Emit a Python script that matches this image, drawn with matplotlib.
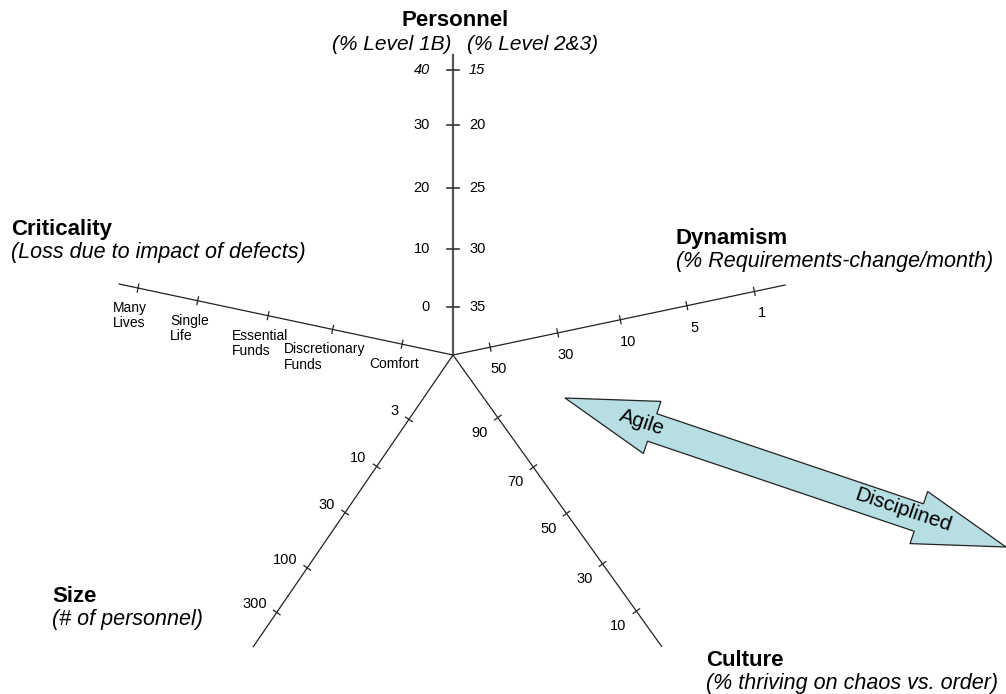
import numpy as np
import matplotlib
matplotlib.use("Agg")
import matplotlib.pyplot as plt
from matplotlib.patches import Polygon

plt.rcParams['font.family'] = ['Liberation Sans', 'DejaVu Sans']

# tick labels of each axis (from the hub outwards where noted)
personnel_left = ["40", "30", "20", "10", "0"]
personnel_right = ["15", "20", "25", "30", "35"]
criticality_labels = ["Many\nLives", "Single\nLife", "Essential\nFunds",
                      "Discretionary\nFunds", "Comfort"]
dynamism_labels = ["50", "30", "10", "5", "1"]
size_labels = ["3", "10", "30", "100", "300"]
culture_labels = ["90", "70", "50", "30", "10"]

# layout (pixels): hub, axis angle, axis length, tick distances from hub
cx, cy = 453, 355
pers_ang, pers_len, pers_d = 90, 300, [285, 230, 167, 106, 48]
crit_ang, crit_len, crit_d = 168, 342, [322, 261, 189, 123, 52]
dyn_ang, dyn_len, dyn_d = 11.9, 340, [38, 107, 171, 239, 308]
size_ang, size_len, size_d = -124.4, 354, [78, 135, 191, 258, 312]
cult_ang, cult_len, cult_d = -54.4, 359, [77, 138, 195, 257, 315]

fig = plt.figure(figsize=(10.06, 6.94), dpi=100)
ax = fig.add_axes([0, 0, 1, 1])
ax.set_xlim(0, 1006)
ax.set_ylim(694, 0)
ax.axis('off')

TICK_FS = 10.5


def pt(ang, d):
    a = np.radians(ang)
    return cx + d * np.cos(a), cy - d * np.sin(a)


def draw_axis(ang, length, dists, lw=0.9, color='#222222', tick=4):
    x1, y1 = pt(ang, length)
    ax.plot([cx, x1], [cy, y1], color=color, lw=lw, solid_capstyle='butt')
    a = np.radians(ang)
    nx, ny = np.sin(a), np.cos(a)  # perpendicular in pixel coords
    for d in dists:
        px, py = pt(ang, d)
        ax.plot([px - tick * nx, px + tick * nx], [py - tick * ny, py + tick * ny],
                color=color, lw=lw)


# Personnel (vertical)
x1, y1 = pt(pers_ang, pers_len)
ax.plot([cx, x1], [cy, y1], color='#555555', lw=1.6)
for d, l, r in zip(pers_d, personnel_left, personnel_right):
    px, py = pt(pers_ang, d)
    ax.plot([px - 6, px + 6], [py, py], color='#333333', lw=1.2)
    st = 'italic' if l == "40" else 'normal'
    ax.text(px - 23, py, l, ha='right', va='center', fontsize=TICK_FS, style=st)
    st = 'italic' if r == "15" else 'normal'
    ax.text(px + 16, py, r, ha='left', va='center', fontsize=TICK_FS, style=st)

# Criticality
draw_axis(crit_ang, crit_len, crit_d)
for d, lab in zip(crit_d, criticality_labels):
    px, py = pt(crit_ang, d)
    ax.text(px - 8, py + 13, lab, ha='center', va='top', fontsize=10,
            multialignment='left', linespacing=1.1)

# Dynamism
draw_axis(dyn_ang, dyn_len, dyn_d)
for d, lab in zip(dyn_d, dynamism_labels):
    px, py = pt(dyn_ang, d)
    ax.text(px + 8, py + 22, lab, ha='center', va='center', fontsize=TICK_FS)

# Size
draw_axis(size_ang, size_len, size_d)
for d, lab in zip(size_d, size_labels):
    px, py = pt(size_ang, d)
    ax.text(px - 10, py - 8, lab, ha='right', va='center', fontsize=TICK_FS)

# Culture
draw_axis(cult_ang, cult_len, cult_d)
for d, lab in zip(cult_d, culture_labels):
    px, py = pt(cult_ang, d)
    ax.text(px - 18, py + 15, lab, ha='center', va='center', fontsize=TICK_FS)

# axis titles
ax.text(455, 20, "Personnel", ha='center', va='center', fontsize=16, weight='bold')
ax.text(452, 44, "(% Level 1B)", ha='right', va='center', fontsize=15, style='italic')
ax.text(467, 44, "(% Level 2&3)", ha='left', va='center', fontsize=15, style='italic')

titles = [(11, 229, "Criticality", "(Loss due to impact of defects)"),
          (676, 238, "Dynamism", "(% Requirements-change/month)"),
          (52, 597, "Size", "(# of personnel)"),
          (706, 660, "Culture", "(% thriving on chaos vs. order)")]
for tx, ty, t, s in titles:
    ax.text(tx, ty, t, ha='left', va='center', fontsize=16, weight='bold')
    ax.text(tx, ty + 23, s, ha='left', va='center', fontsize=15.5, style='italic')

# Agile <-> Disciplined double arrow
A = np.array([565.0, 398.0])
B = np.array([1006.0, 547.0])
head_len, head_w, shaft_w = 92, 55, 29
u = (B - A) / np.linalg.norm(B - A)
n = np.array([-u[1], u[0]])
pts = [A,
       A + head_len * u - head_w / 2 * n,
       A + head_len * u - shaft_w / 2 * n,
       B - head_len * u - shaft_w / 2 * n,
       B - head_len * u - head_w / 2 * n,
       B,
       B - head_len * u + head_w / 2 * n,
       B - head_len * u + shaft_w / 2 * n,
       A + head_len * u + shaft_w / 2 * n,
       A + head_len * u + head_w / 2 * n]
ax.add_patch(Polygon(pts, closed=True, facecolor='#b7dee3', edgecolor='#222222',
                     lw=0.9, clip_on=False))
ang = -np.degrees(np.arctan2(B[1] - A[1], B[0] - A[0]))
for frac, lab in [(0.175, "Agile"), (0.766, "Disciplined")]:
    p = A + frac * (B - A)
    ax.text(p[0], p[1] - 2, lab, ha='center', va='center', fontsize=15,
            rotation=ang, rotation_mode='anchor')

fig.savefig("out.png", dpi=100)
